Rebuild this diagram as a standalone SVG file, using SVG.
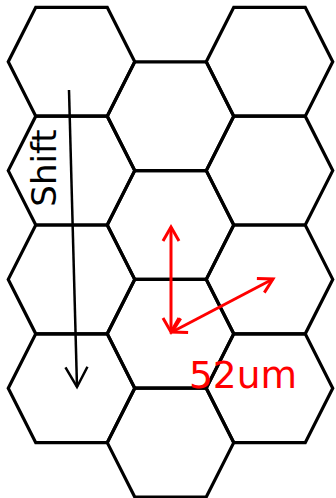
<svg xmlns="http://www.w3.org/2000/svg" width="336" height="498" viewBox="0 0 336 498">
  <style>
    .hex { fill: none; stroke: #000; stroke-width: 3.2; stroke-linejoin: miter; }
    .blk { stroke: #000; stroke-width: 2.5; fill: none; }
    .red { stroke: #ff0000; stroke-width: 3; fill: none; }
    .lbl { font-family: "DejaVu Sans", sans-serif; }
  </style>
  <defs>
    <polygon id="hexshape" points="-63.25,0 -35.75,-54.4 35.75,-54.4 63.25,0 35.75,54.4 -35.75,54.4"/>
    <marker id="blkHead" markerUnits="userSpaceOnUse" markerWidth="26" markerHeight="26" refX="21" refY="12" orient="auto" viewBox="0 0 26 24">
      <path d="M1,1 L21,12 L1,23" fill="none" stroke="#000" stroke-width="2.5"/>
    </marker>
    <marker id="redHead" markerUnits="userSpaceOnUse" markerWidth="20" markerHeight="20" refX="15" refY="9" orient="auto-start-reverse" viewBox="0 0 20 18">
      <path d="M1,1 L15,9 L1,17" fill="none" stroke="#ff0000" stroke-width="3"/>
    </marker>
  </defs>

  <g id="hexes">
    <g id="hex-c1-r1"><use href="#hexshape" class="hex" x="71.5" y="61.8"/></g>
    <g id="hex-c1-r2"><use href="#hexshape" class="hex" x="71.5" y="170.6"/></g>
    <g id="hex-c1-r3"><use href="#hexshape" class="hex" x="71.5" y="279.4"/></g>
    <g id="hex-c1-r4"><use href="#hexshape" class="hex" x="71.5" y="388.2"/></g>
    <g id="hex-c2-r1"><use href="#hexshape" class="hex" x="170.5" y="116.2"/></g>
    <g id="hex-c2-r2"><use href="#hexshape" class="hex" x="170.5" y="225"/></g>
    <g id="hex-c2-r3"><use href="#hexshape" class="hex" x="170.5" y="333.8"/></g>
    <g id="hex-c2-r4"><use href="#hexshape" class="hex" x="170.5" y="442.6"/></g>
    <g id="hex-c3-r1"><use href="#hexshape" class="hex" x="269.5" y="61.8"/></g>
    <g id="hex-c3-r2"><use href="#hexshape" class="hex" x="269.5" y="170.6"/></g>
    <g id="hex-c3-r3"><use href="#hexshape" class="hex" x="269.5" y="279.4"/></g>
    <g id="hex-c3-r4"><use href="#hexshape" class="hex" x="269.5" y="388.2"/></g>
  </g>

  <g id="connectors">
    <line id="shift-arrow" class="blk" x1="69" y1="90" x2="77" y2="387" marker-end="url(#blkHead)"/>
    <line id="pitch-vertical" class="red" x1="171" y1="227" x2="171" y2="332" marker-start="url(#redHead)" marker-end="url(#redHead)"/>
    <line id="pitch-diagonal" class="red" x1="172" y1="332" x2="273" y2="279" marker-start="url(#redHead)" marker-end="url(#redHead)"/>
  </g>

  <g id="labels">
    <text class="lbl" transform="translate(56,168) rotate(-90)" text-anchor="middle" font-size="34" fill="#000">Shift</text>
    <text class="lbl" x="189" y="387.5" font-size="37.5" fill="#ff0000">52um</text>
  </g>
</svg>
